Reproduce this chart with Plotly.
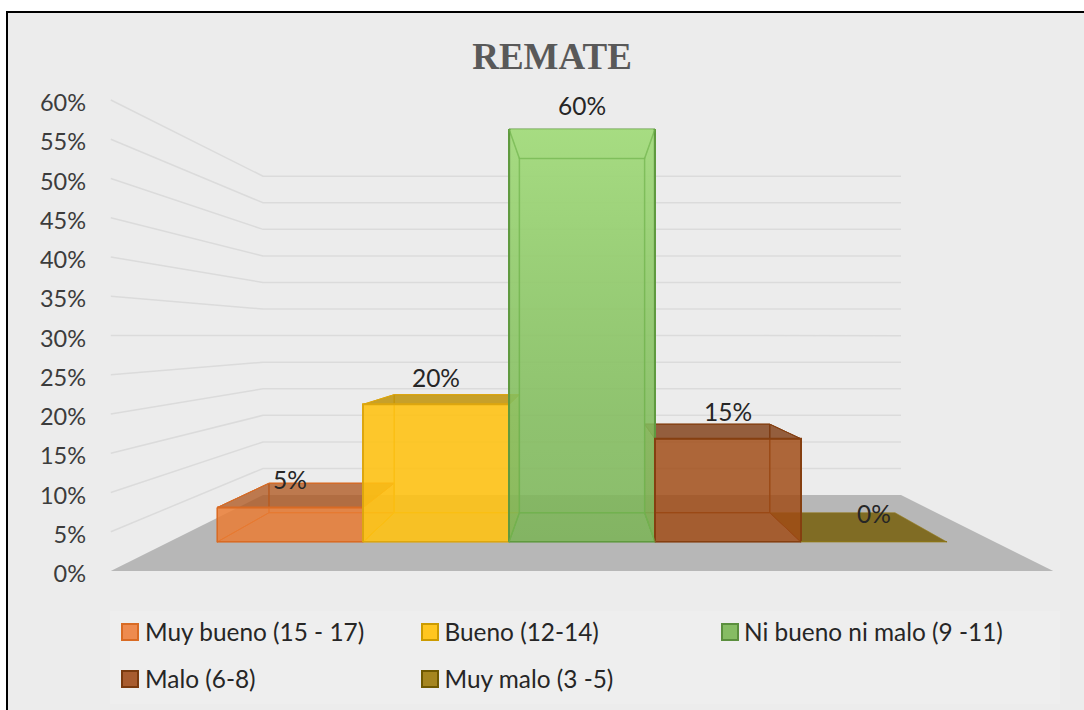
import plotly.graph_objects as go

# Chart content
TITLE = "REMATE"
CATEGORIES = ["Muy bueno (15 - 17)", "Bueno (12-14)", "Ni bueno ni malo (9 -11)", "Malo (6-8)", "Muy malo (3 -5)"]
VALUES = [5, 20, 60, 15, 0]
AXIS_TICKS = [0, 5, 10, 15, 20, 25, 30, 35, 40, 45, 50, 55, 60]

FRONT = ["rgba(233,125,52,0.82)", "rgba(255,194,20,0.86)", "rgba(122,180,86,0.80)",
         "rgba(160,76,22,0.78)", "rgba(122,100,20,0.85)"]
INNER = ["rgba(237,125,49,0.18)", "rgba(240,180,0,0.22)", "rgba(112,173,71,0.28)",
         "rgba(158,72,14,0.25)", "rgba(122,100,20,0.90)"]
TOPS = ["rgba(170,85,30,0.72)", "rgba(190,145,10,0.82)", "rgba(150,215,110,0.35)",
        "rgba(120,55,15,0.72)", "rgba(122,100,20,0.90)"]
EDGES = ["#D96B24", "#DDA60E", "#5F9A3F", "#853F10", "#8A7418"]
SWATCH = ["#EE8B4F", "#FFC61F", "#86BC64", "#A85C2F", "#A5851F"]
SWATCH_EDGE = ["#D96B24", "#CC9B00", "#5B8F3E", "#7A3A0E", "#6F5800"]

# Perspective of the 3-D box: depth 1 is the front of the floor, smaller is further back.
EYE_LEVEL = 29.94
DEPTH_WALL, DEPTH_BAR_BACK, DEPTH_LABEL, DEPTH_BAR_FRONT = 0.677, 0.752, 0.866, 0.877
FLOOR_HALF = 2.83
LABEL_LIFT = 2.9


def project(c, v, s):
    return s * c, EYE_LEVEL + s * (v - EYE_LEVEL)


def polygon(points):
    xs, ys = zip(*[project(*p) for p in points])
    return list(xs) + [xs[0]], list(ys) + [ys[0]]


fig = go.Figure()


def add_poly(points, fill, line="rgba(0,0,0,0)", width=1.5):
    xs, ys = polygon(points)
    fig.add_trace(go.Scatter(x=xs, y=ys, mode="lines", fill="toself", fillcolor=fill,
                             line=dict(color=line, width=width), showlegend=False,
                             hoverinfo="skip"))


# Floor and wall grid
add_poly([(-FLOOR_HALF, 0, 1), (FLOOR_HALF, 0, 1), (FLOOR_HALF, 0, DEPTH_WALL), (-FLOOR_HALF, 0, DEPTH_WALL)],
         "#B7B7B7")
for tick in AXIS_TICKS[1:]:
    pts = [project(-FLOOR_HALF, tick, 1), project(-FLOOR_HALF, tick, DEPTH_WALL), project(FLOOR_HALF, tick, DEPTH_WALL)]
    fig.add_trace(go.Scatter(x=[p[0] for p in pts], y=[p[1] for p in pts], mode="lines",
                             line=dict(color="#DBDBDB", width=1.5), showlegend=False, hoverinfo="skip"))

# Bar boxes, painted from the outer bars towards the centre of view
for i in [0, 1, 4, 3, 2]:
    left, right, v = i - 2.5, i - 1.5, VALUES[i]
    f, b = DEPTH_BAR_FRONT, DEPTH_BAR_BACK
    if v == 0:
        add_poly([(left, 0, f), (right, 0, f), (right, 0, b), (left, 0, b)], INNER[i], "rgba(150,125,30,0.6)", 1)
        continue
    add_poly([(left, 0, f), (right, 0, f), (right, 0, b), (left, 0, b)], INNER[i], EDGES[i], 1)
    add_poly([(left, 0, b), (right, 0, b), (right, v, b), (left, v, b)], INNER[i], EDGES[i], 1)
    add_poly([(left, 0, f), (left, 0, b), (left, v, b), (left, v, f)], INNER[i], EDGES[i], 1)
    add_poly([(right, 0, f), (right, 0, b), (right, v, b), (right, v, f)], INNER[i], EDGES[i], 1)
    add_poly([(left, v, f), (right, v, f), (right, v, b), (left, v, b)], TOPS[i], EDGES[i], 1)

# Value labels
fig.add_trace(go.Scatter(
    x=[project(i - 2, v, DEPTH_BAR_FRONT)[0] for i, v in enumerate(VALUES)],
    y=[project(i - 2, v, DEPTH_LABEL)[1] + LABEL_LIFT for i, v in enumerate(VALUES)],
    mode="text", text=[f"{v}%" for v in VALUES], textposition="middle center",
    textfont=dict(family="Lato", size=24.5, color="#262626"), showlegend=False, hoverinfo="skip"))

# Legend text, one legend per row; the colour keys are the rectangles added to the layout below
for i, name in enumerate(CATEGORIES):
    fig.add_trace(go.Scatter(x=[None], y=[None], mode="markers", name=name,
                             legend="legend" if i < 3 else "legend2",
                             marker=dict(symbol="square", size=1, color="rgba(0,0,0,0)")))

# Front faces of the bars on their own category axis
for i, name in enumerate(CATEGORIES):
    fig.add_trace(go.Bar(x=[i], y=[VALUES[i]], width=1, xaxis="x2", yaxis="y2",
                         marker=dict(color=FRONT[i], line=dict(color=EDGES[i], width=2)),
                         showlegend=False, hoverinfo="skip"))

# Lighter sheen fading down the tall bar's front
tall = VALUES.index(max(VALUES))
fig.add_trace(go.Scatter(x=[tall - 0.49, tall + 0.49, tall + 0.49, tall - 0.49, tall - 0.49],
                         y=[0, 0, VALUES[tall], VALUES[tall], 0], xaxis="x2", yaxis="y2",
                         mode="lines", fill="toself", line=dict(color="rgba(0,0,0,0)", width=0),
                         fillgradient=dict(type="vertical",
                                           colorscale=[[0, "rgba(175,235,135,0)"], [0.3, "rgba(175,235,135,0.14)"],
                                                       [1, "rgba(185,240,145,0.60)"]]),
                         showlegend=False, hoverinfo="skip"))

# Inner edges of the tall bar, seen through its front
l, r, top = tall - 2.5, tall - 1.5, VALUES[tall]
f, b = DEPTH_BAR_FRONT, DEPTH_BAR_BACK
inner_paths = [
    [(l, 0, b), (r, 0, b), (r, top, b), (l, top, b), (l, 0, b)],
    [(l, 0, f), (l, 0, b)], [(r, 0, f), (r, 0, b)],
    [(l, top, f), (l, top, b)], [(r, top, f), (r, top, b)],
]
for path in inner_paths:
    pts = [project(*p) for p in path]
    fig.add_trace(go.Scatter(x=[p[0] for p in pts], y=[p[1] for p in pts], mode="lines", xaxis="x3", yaxis="y3",
                             line=dict(color="rgba(112,178,76,0.6)", width=1.5), showlegend=False, hoverinfo="skip"))

W, H = 1084, 710
UNIT_X = 166.5
UNIT_Y = 7.85
CENTER_X = 582
FLOOR_Y = 571
X_RANGE = [-CENTER_X / UNIT_X, (W - CENTER_X) / UNIT_X]
Y_RANGE = [(FLOOR_Y - H) / UNIT_Y, FLOOR_Y / UNIT_Y]


def px_x(p):
    return p / W


def px_y(p):
    return (H - p) / H


legend_style = dict(orientation="h", x=px_x(105), xanchor="left", yanchor="middle",
                    entrywidth=254.5, entrywidthmode="pixels", bgcolor="rgba(0,0,0,0)",
                    font=dict(family="Lato", size=24.4, color="#262626"),
                    itemclick=False, itemdoubleclick=False)

panel = [
    dict(type="rect", xref="paper", yref="paper", layer="below", x0=px_x(6), x1=px_x(1100), y0=px_y(11), y1=px_y(720),
         fillcolor="black", line=dict(width=0)),
    dict(type="rect", xref="paper", yref="paper", layer="below", x0=px_x(8), x1=px_x(1100), y0=px_y(13), y1=px_y(720),
         fillcolor="#ECECEC", line=dict(width=0)),
    dict(type="rect", xref="paper", yref="paper", layer="below", x0=px_x(110), x1=px_x(1060), y0=px_y(611), y1=px_y(704),
         fillcolor="#EEEEEE", line=dict(width=0)),
]
# Colour keys of the legend, in reading order
key_centres = [(130, 632), (430, 632), (730, 632), (130, 679), (430, 679)]
keys = [dict(type="rect", xref="paper", yref="paper", layer="above",
             x0=px_x(cx - 8), x1=px_x(cx + 8), y0=px_y(cy - 8), y1=px_y(cy + 8),
             fillcolor=SWATCH[i], line=dict(color=SWATCH_EDGE[i], width=2))
        for i, (cx, cy) in enumerate(key_centres)]

fig.update_layout(
    width=W, height=H, margin=dict(l=0, r=0, t=0, b=0), autosize=False,
    paper_bgcolor="white", plot_bgcolor="rgba(0,0,0,0)",
    barmode="overlay",
    font=dict(family="Lato", color="#404040"),
    title=dict(text=TITLE, x=px_x(552), xref="paper", xanchor="center", y=px_y(56), yref="paper", yanchor="middle",
               font=dict(family="Liberation Serif", size=37, color="#595959", weight="bold")),
    xaxis=dict(range=X_RANGE, domain=[0, 1], visible=False, fixedrange=True),
    yaxis=dict(range=Y_RANGE, domain=[0, 1], anchor="free", position=px_x(86),
               tickmode="array", tickvals=AXIS_TICKS, ticktext=[f"{t}%" for t in AXIS_TICKS],
               showgrid=False, zeroline=False, showline=False, ticks="", ticklabelshift=3,
               tickfont=dict(family="Lato", size=23.5, color="#3C3C3C"), fixedrange=True),
    xaxis2=dict(domain=[px_x(217), px_x(947)], anchor="y2", visible=False, range=[-0.5, 4.5], fixedrange=True),
    yaxis2=dict(domain=[px_y(542), px_y(129)], anchor="x2", visible=False, range=[0, 60], fixedrange=True),
    xaxis3=dict(range=X_RANGE, domain=[0, 1], anchor="y3", visible=False, fixedrange=True),
    yaxis3=dict(range=Y_RANGE, domain=[0, 1], anchor="x3", visible=False, fixedrange=True),
    legend=dict(y=px_y(632), **legend_style),
    legend2=dict(y=px_y(679), **legend_style),
    shapes=panel + keys,
)

fig.write_html("out.html")
